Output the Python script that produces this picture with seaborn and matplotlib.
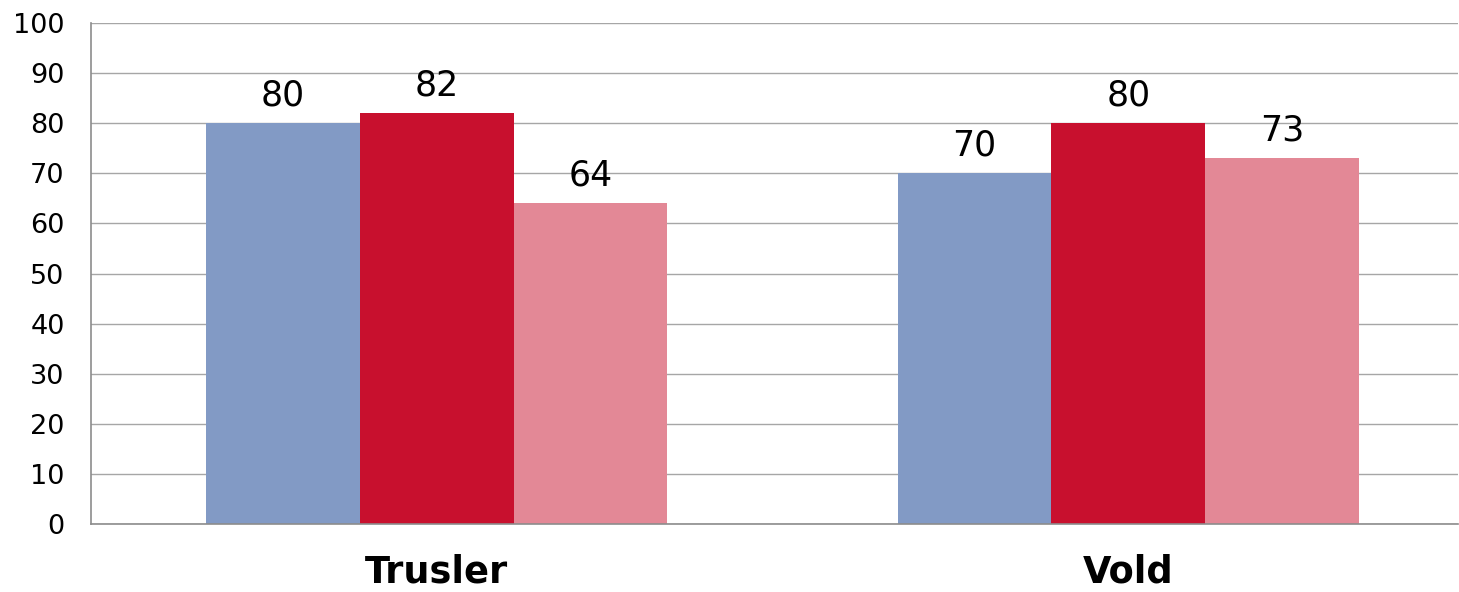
import pandas as pd
import matplotlib.pyplot as plt
import seaborn as sns

# --- Datos ---
categories = ['Trusler', 'Vold']
series = ['Serie 1', 'Serie 2', 'Serie 3']
trusler_vals = [80, 82, 64]
vold_vals = [70, 80, 73]
colors = ['#829AC5', '#C8102E', '#E38896']

df = pd.DataFrame({
    'categoria': [categories[0]] * 3 + [categories[1]] * 3,
    'serie': series * 2,
    'valor': trusler_vals + vold_vals,
})

sns.set_style('white')
plt.rcParams['font.family'] = ['DejaVu Sans']
plt.rcParams['text.color'] = 'black'
plt.rcParams['xtick.color'] = 'black'
plt.rcParams['ytick.color'] = 'black'

fig = plt.figure(figsize=(14.59, 5.92), dpi=100)
ax = fig.add_axes([0.0624, 0.115, 0.937, 0.846])

sns.barplot(data=df, x='categoria', y='valor', hue='serie', palette=colors,
            width=0.667, gap=0, saturation=1, linewidth=0, legend=False, ax=ax)

for c in ax.containers:
    ax.bar_label(c, fmt='%d', padding=8, fontsize=25, color='black')

ax.set_ylim(0, 100)
ax.set_xlim(-0.5, 1.477)
ax.set_yticks(range(0, 101, 10))
ax.yaxis.grid(True, color='#A6A6A6', linewidth=1.0)
ax.set_axisbelow(True)
for s in ['top', 'right']:
    ax.spines[s].set_visible(False)
for s in ['left', 'bottom']:
    ax.spines[s].set_color('#8C8C8C')
    ax.spines[s].set_linewidth(1.2)
ax.tick_params(axis='y', length=0, labelsize=19.5, pad=19)
ax.tick_params(axis='x', length=0, labelsize=26.5, pad=21)
for lbl in ax.get_xticklabels():
    lbl.set_fontweight('bold')
ax.set_xlabel(''); ax.set_ylabel('')

fig.savefig('out.png', dpi=100)
